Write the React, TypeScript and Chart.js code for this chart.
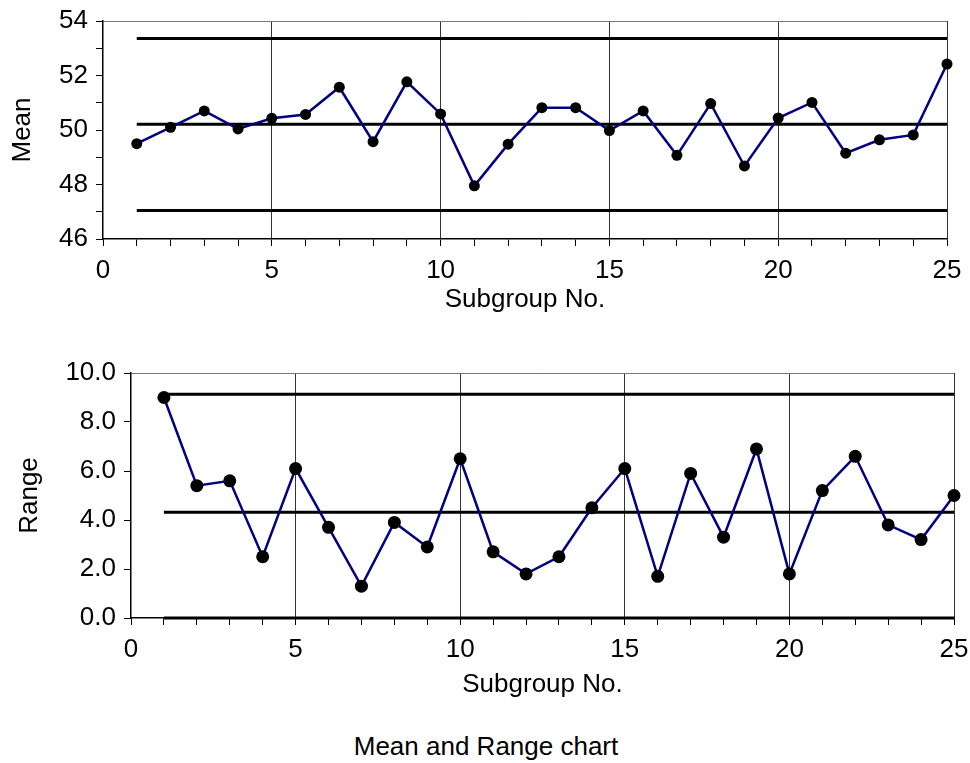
import React, { useEffect, useRef } from "react";
import { Chart, registerables } from "chart.js";

Chart.register(...registerables);

// ---------- data ----------
const subgroups = [1, 2, 3, 4, 5, 6, 7, 8, 9, 10, 11, 12, 13, 14, 15, 16, 17, 18, 19, 20, 21, 22, 23, 24, 25];

const meanValues = [
  49.5, 50.1, 50.7, 50.04, 50.43, 50.57, 51.57, 49.57, 51.77, 50.59,
  47.95, 49.48, 50.82, 50.82, 49.98, 50.7, 49.07, 50.97, 48.68, 50.44,
  51.01, 49.15, 49.64, 49.82, 52.42,
];
const meanUCL = 53.36;
const meanCL = 50.21;
const meanLCL = 47.05;

const rangeValues = [
  9.0, 5.4, 5.6, 2.5, 6.1, 3.7, 1.3, 3.9, 2.9, 6.5,
  2.7, 1.8, 2.5, 4.5, 6.1, 1.7, 5.9, 3.3, 6.9, 1.8,
  5.2, 6.6, 3.8, 3.2, 5.0,
];
const rangeUCL = 9.13;
const rangeCL = 4.32;
const rangeLCL = 0;

const xTickLabels = [0, 5, 10, 15, 20, 25];
const meanTickLabels = [46, 48, 50, 52, 54];
const rangeTickLabels = [0, 2, 4, 6, 8, 10];

const xTitle = "Subgroup No.";
const meanTitle = "Mean";
const rangeTitle = "Range";
const chartTitle = "Mean and Range chart";

// ---------- styling ----------
const FONT = "'Liberation Sans', Arial, Helvetica, sans-serif";
const FS = 26;
const TITLE_FS = 26;
const TRANSPARENT = "rgba(0,0,0,0)";

type Spec = {
  values: number[];
  ucl: number;
  cl: number;
  lcl: number;
  yTicks: number[];
  yStep: number;
  yFmt: (v: number) => string;
  yTitle: string;
  pointRadius: number;
  yWidth: number;
  xHeight: number;
  padding: { left: number; top: number; right: number; bottom: number };
  xTitlePadBottom: number;
  yTitlePadTop: number;
};

function buildConfig(s: Spec): any {
  const first = subgroups[0];
  const last = subgroups[subgroups.length - 1];
  const ctrl = (v: number) => ({
    type: "line",
    data: [
      { x: first, y: v },
      { x: last, y: v },
    ],
    borderColor: "#000000",
    borderWidth: 3,
    pointRadius: 0,
    showLine: true,
    clip: false,
    order: 2,
  });
  const yMin = s.yTicks[0];
  const yMax = s.yTicks[s.yTicks.length - 1];
  const xMin = xTickLabels[0];
  const xMax = xTickLabels[xTickLabels.length - 1];
  return {
    type: "scatter",
    data: {
      datasets: [
        {
          data: subgroups.map((x, i) => ({ x, y: s.values[i] })),
          showLine: true,
          borderColor: "#000080",
          borderWidth: 2.5,
          pointRadius: s.pointRadius,
          pointBackgroundColor: "#000000",
          pointBorderColor: "#000000",
          pointBorderWidth: 0,
          clip: false,
          order: 0,
        },
        ctrl(s.ucl),
        ctrl(s.cl),
        ctrl(s.lcl),
      ],
    },
    options: {
      responsive: false,
      animation: false,
      devicePixelRatio: 1,
      layout: { padding: s.padding },
      plugins: {
        legend: { display: false },
        tooltip: { enabled: false },
        title: { display: false },
      },
      scales: {
        x: {
          type: "linear",
          min: xMin,
          max: xMax,
          afterFit: (scale: any) => {
            scale.height = s.xHeight;
            scale.paddingLeft = 0;
            scale.paddingRight = 0;
          },
          ticks: {
            stepSize: 1,
            autoSkip: false,
            maxRotation: 0,
            minRotation: 0,
            padding: 9,
            color: "#000",
            font: { family: FONT, size: FS },
            callback: (v: any) => (xTickLabels.includes(Number(v)) ? String(v) : ""),
          },
          grid: {
            color: (ctx: any) => {
              const v = ctx.tick ? ctx.tick.value : NaN;
              return xTickLabels.includes(v) && v !== xMin ? "#333333" : TRANSPARENT;
            },
            tickColor: "#000000",
            tickLength: 7,
            lineWidth: 1,
          },
          border: { color: "#000000", width: 1.5 },
          title: {
            display: true,
            text: xTitle,
            color: "#000",
            font: { family: FONT, size: FS },
            padding: { top: 0, bottom: s.xTitlePadBottom },
          },
        },
        y: {
          type: "linear",
          min: yMin,
          max: yMax,
          afterFit: (scale: any) => {
            scale.width = s.yWidth;
            scale.paddingTop = 0;
            scale.paddingBottom = 0;
          },
          ticks: {
            stepSize: s.yStep,
            autoSkip: false,
            padding: 8,
            color: "#000",
            font: { family: FONT, size: FS },
            callback: (v: any) => (s.yTicks.includes(Number(v)) ? s.yFmt(Number(v)) : ""),
          },
          grid: {
            color: (ctx: any) => {
              const v = ctx.tick ? ctx.tick.value : NaN;
              return v === yMax ? "#777777" : TRANSPARENT;
            },
            tickColor: "#000000",
            tickLength: 7,
            lineWidth: 1,
          },
          border: { color: "#000000", width: 1.5 },
          title: {
            display: true,
            text: s.yTitle,
            color: "#000",
            font: { family: FONT, size: FS },
            padding: { top: s.yTitlePadTop, bottom: 0 },
          },
        },
      },
    },
  };
}

function ChartCanvas(props: { spec: Spec; width: number; height: number; style: React.CSSProperties }) {
  const ref = useRef<HTMLCanvasElement | null>(null);
  useEffect(() => {
    if (!ref.current) return;
    const chart = new Chart(ref.current, buildConfig(props.spec));
    return () => chart.destroy();
  }, []);
  return (
    <canvas
      ref={ref}
      width={props.width}
      height={props.height}
      style={{ position: "absolute", display: "block", width: props.width, height: props.height, ...props.style }}
    />
  );
}

const meanSpec: Spec = {
  values: meanValues,
  ucl: meanUCL,
  cl: meanCL,
  lcl: meanLCL,
  yTicks: meanTickLabels,
  yStep: 1,
  yFmt: (v) => String(v),
  yTitle: meanTitle,
  pointRadius: 5.5,
  yWidth: 103,
  xHeight: 81,
  padding: { left: 0, top: 21, right: 23, bottom: 0 },
  xTitlePadBottom: 5,
  yTitlePadTop: 7,
};

const rangeSpec: Spec = {
  values: rangeValues,
  ucl: rangeUCL,
  cl: rangeCL,
  lcl: rangeLCL,
  yTicks: rangeTickLabels,
  yStep: 2,
  yFmt: (v) => v.toFixed(1),
  yTitle: rangeTitle,
  pointRadius: 6.5,
  yWidth: 131,
  xHeight: 82,
  padding: { left: 0, top: 33, right: 16, bottom: 0 },
  xTitlePadBottom: 0,
  yTitlePadTop: 14,
};

export default function App() {
  return (
    <div
      style={{
        position: "absolute",
        left: 0,
        top: 0,
        width: 970,
        height: 763,
        background: "#ffffff",
        overflow: "hidden",
      }}
    >
      <ChartCanvas spec={meanSpec} width={970} height={320} style={{ left: 0, top: 0 }} />
      <ChartCanvas spec={rangeSpec} width={970} height={360} style={{ left: 0, top: 340 }} />
      <div
        style={{
          position: "absolute",
          left: 0,
          width: 972,
          top: 731,
          textAlign: "center",
          fontFamily: FONT,
          fontSize: TITLE_FS,
          lineHeight: "30px",
          color: "#000",
        }}
      >
        {chartTitle}
      </div>
    </div>
  );
}
